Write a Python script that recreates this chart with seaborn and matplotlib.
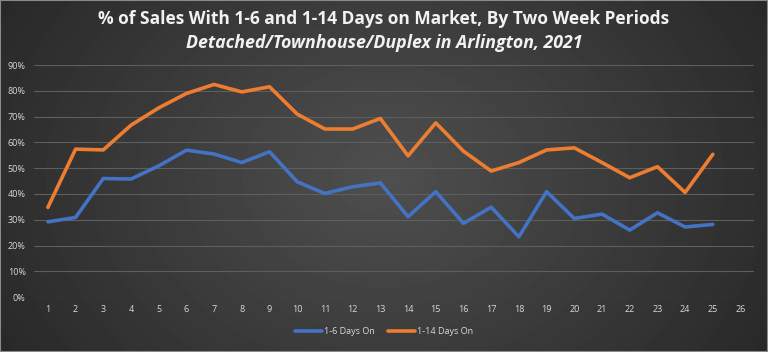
import numpy as np
import pandas as pd
import matplotlib
matplotlib.use("Agg")
import matplotlib.pyplot as plt
import seaborn as sns

# data (two-week periods)
periods = list(range(1, 26))
days_1_6 = [29.2, 30.9, 46.0, 45.8, 50.9, 57.0, 55.5, 52.2, 56.4, 44.7,
            40.2, 42.8, 44.3, 31.2, 40.9, 28.6, 34.9, 23.4, 40.9, 30.5,
            32.2, 26.0, 32.7, 27.2, 28.2]
days_1_14 = [34.8, 57.4, 57.1, 66.7, 73.4, 79.0, 82.5, 79.6, 81.6, 71.0,
             65.2, 65.2, 69.3, 54.8, 67.6, 56.6, 48.9, 52.2, 57.1, 57.9,
             52.2, 46.3, 50.6, 40.6, 55.4]
series_names = ["1-6 Days On", "1-14 Days On"]
x_ticks = list(range(1, 27))
y_ticks = list(range(0, 100, 10))

df = pd.DataFrame({
    "period": periods * 2,
    "pct": days_1_6 + days_1_14,
    "series": [series_names[0]] * len(periods) + [series_names[1]] * len(periods),
})

sns.set_style("dark")
plt.rcParams["font.family"] = ["Open Sans", "DejaVu Sans"]

fig = plt.figure(figsize=(7.68, 3.52), dpi=100)

# radial gradient background
bg = fig.add_axes([0, 0, 1, 1], zorder=-10)
yy, xx = np.mgrid[0:352, 0:768]
r = np.sqrt(((xx - 384) / 384.0) ** 2 + ((yy - 176) / 300.0) ** 2)
shade = np.clip(0.31 - 0.13 * r, 0.15, 0.31)
bg.imshow(shade, cmap="gray", vmin=0, vmax=1, aspect="auto",
          extent=[0, 1, 0, 1], interpolation="bilinear")
bg.set_axis_off()
fig.patches.append(plt.Rectangle((0, 0), 1, 1, transform=fig.transFigure,
                                 fill=False, edgecolor="#8a8a8a", lw=1.5, zorder=-5))

ax = fig.add_axes([0.0443, 0.156, 0.938, 0.659])
ax.patch.set_alpha(0)
sns.lineplot(data=df, x="period", y="pct", hue="series",
             palette=["#4472C4", "#ED7D31"], linewidth=2.6, ax=ax, legend=False)

ax.set_xlim(0.5, 26.5)
ax.set_ylim(0, 90)
ax.set_xticks(x_ticks)
ax.set_xticklabels([str(t) for t in x_ticks])
ax.set_yticks(y_ticks)
ax.set_yticklabels([f"{t}%" for t in y_ticks])
ax.tick_params(colors="#d9d9d9", labelsize=6.5, length=0, pad=6)
ax.grid(axis="y", color="#5e5e5e", linewidth=0.8)
ax.grid(axis="x", visible=False)
for s in ax.spines.values():
    s.set_visible(False)
ax.set_xlabel("")
ax.set_ylabel("")

fig.text(0.5, 0.945, "% of Sales With 1-6 and 1-14 Days on Market, By Two Week Periods",
         ha="center", va="center", color="#f2f2f2", fontsize=12.5, fontweight="bold")
fig.text(0.5, 0.878, "Detached/Townhouse/Duplex in Arlington, 2021",
         ha="center", va="center", color="#f2f2f2", fontsize=12.8,
         style="italic", fontweight="bold")

handles = [plt.Line2D([], [], color="#4472C4", lw=2.6),
           plt.Line2D([], [], color="#ED7D31", lw=2.6)]
fig.legend(handles, series_names, loc="center", bbox_to_anchor=(0.5, 0.057),
           ncol=2, frameon=False, fontsize=6.5, labelcolor="#d9d9d9",
           handlelength=3, handletextpad=0.2, columnspacing=1.5)

fig.savefig("out.png", dpi=100)
